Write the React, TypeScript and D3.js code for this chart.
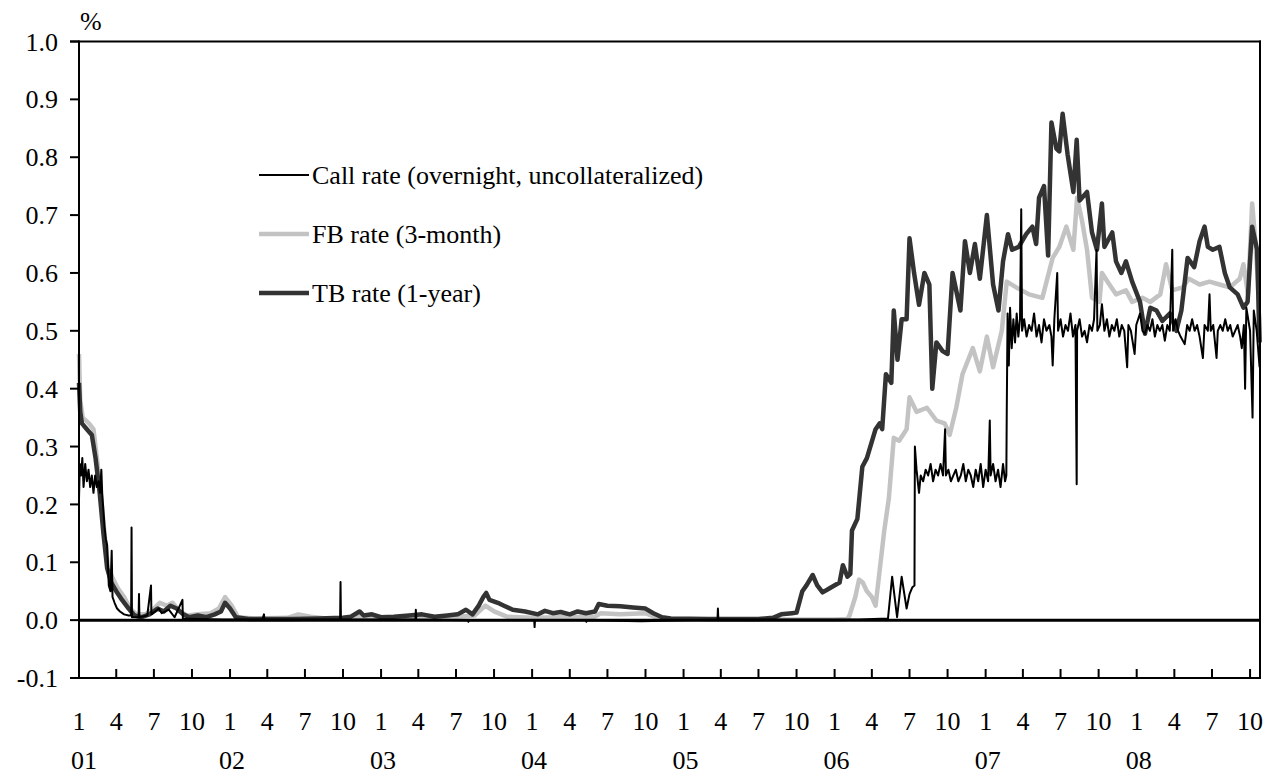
import * as d3 from "d3";
import { useEffect, useRef } from "react";

type Pt = [string, number];

// Call rate (overnight, uncollateralized), %
const callRate: Pt[] = [
  ["2001-01-01", 0.21], ["2001-01-03", 0.27], ["2001-01-06", 0.25], ["2001-01-09", 0.28],
  ["2001-01-12", 0.23], ["2001-01-16", 0.27], ["2001-01-20", 0.24], ["2001-01-24", 0.26],
  ["2001-01-28", 0.23], ["2001-02-01", 0.25], ["2001-02-05", 0.22], ["2001-02-09", 0.25],
  ["2001-02-13", 0.23], ["2001-02-17", 0.24], ["2001-02-21", 0.22], ["2001-02-24", 0.26],
  ["2001-02-26", 0.22], ["2001-03-01", 0.19], ["2001-03-04", 0.16], ["2001-03-07", 0.14],
  ["2001-03-10", 0.13], ["2001-03-14", 0.06], ["2001-03-18", 0.05], ["2001-03-21", 0.12],
  ["2001-03-23", 0.04], ["2001-03-28", 0.03], ["2001-04-03", 0.02], ["2001-04-10", 0.015],
  ["2001-04-20", 0.01], ["2001-05-01", 0.008], ["2001-05-07", 0.008], ["2001-05-08", 0.16],
  ["2001-05-09", 0.005], ["2001-05-25", 0.005], ["2001-05-26", 0.045], ["2001-05-27", 0.005],
  ["2001-06-15", 0.008], ["2001-06-24", 0.06], ["2001-06-25", 0.01], ["2001-07-13", 0.02],
  ["2001-07-20", 0.012], ["2001-08-06", 0.018], ["2001-08-20", 0.005], ["2001-09-08", 0.035],
  ["2001-09-09", 0.003], ["2001-10-15", 0.002], ["2001-12-15", 0.001], ["2002-03-20", 0.001],
  ["2002-03-24", 0.01], ["2002-03-25", 0.001], ["2002-09-24", 0.001], ["2002-09-25", 0.066],
  ["2002-09-26", 0.001], ["2003-03-25", 0.001], ["2003-03-26", 0.018], ["2003-03-27", 0.001],
  ["2003-07-30", 0.0], ["2003-07-31", -0.003], ["2003-08-01", 0.0], ["2004-01-06", 0.0],
  ["2004-01-07", -0.012], ["2004-01-08", 0.0], ["2004-05-10", 0.0], ["2004-05-11", -0.003],
  ["2004-05-12", 0.0], ["2004-09-20", -0.002], ["2005-03-24", 0.001], ["2005-03-25", 0.02],
  ["2005-03-26", 0.001], ["2006-03-01", 0.001], ["2006-05-10", 0.003], ["2006-05-20", 0.075],
  ["2006-06-01", 0.005], ["2006-06-12", 0.075], ["2006-06-24", 0.02], ["2006-07-01", 0.045],
  ["2006-07-08", 0.057], ["2006-07-13", 0.06], ["2006-07-14", 0.3], ["2006-07-18", 0.26],
  ["2006-07-24", 0.22], ["2006-07-28", 0.25], ["2006-08-03", 0.24], ["2006-08-09", 0.26],
  ["2006-08-15", 0.25], ["2006-08-21", 0.27], ["2006-08-27", 0.24], ["2006-09-02", 0.26],
  ["2006-09-08", 0.25], ["2006-09-14", 0.27], ["2006-09-20", 0.25], ["2006-09-25", 0.33],
  ["2006-09-27", 0.25], ["2006-10-03", 0.26], ["2006-10-09", 0.24], ["2006-10-15", 0.25],
  ["2006-10-21", 0.26], ["2006-10-27", 0.24], ["2006-11-02", 0.25], ["2006-11-08", 0.27],
  ["2006-11-14", 0.24], ["2006-11-20", 0.26], ["2006-11-26", 0.25], ["2006-12-02", 0.23],
  ["2006-12-08", 0.26], ["2006-12-14", 0.24], ["2006-12-20", 0.27], ["2006-12-26", 0.23],
  ["2007-01-01", 0.26], ["2007-01-07", 0.24], ["2007-01-11", 0.345], ["2007-01-13", 0.25],
  ["2007-01-19", 0.27], ["2007-01-25", 0.24], ["2007-01-31", 0.26], ["2007-02-06", 0.23],
  ["2007-02-12", 0.27], ["2007-02-17", 0.24], ["2007-02-20", 0.25], ["2007-02-21", 0.36],
  ["2007-02-23", 0.53], ["2007-02-26", 0.44], ["2007-03-01", 0.54], ["2007-03-05", 0.47],
  ["2007-03-09", 0.52], ["2007-03-13", 0.48], ["2007-03-17", 0.53], ["2007-03-21", 0.49],
  ["2007-03-25", 0.52], ["2007-03-28", 0.71], ["2007-03-30", 0.5], ["2007-04-04", 0.52],
  ["2007-04-10", 0.49], ["2007-04-16", 0.51], ["2007-04-22", 0.5], ["2007-04-28", 0.53],
  ["2007-05-04", 0.49], ["2007-05-10", 0.51], ["2007-05-16", 0.48], ["2007-05-22", 0.52],
  ["2007-05-28", 0.5], ["2007-06-04", 0.51], ["2007-06-09", 0.49], ["2007-06-12", 0.44],
  ["2007-06-16", 0.52], ["2007-06-23", 0.6], ["2007-06-25", 0.5], ["2007-07-01", 0.52],
  ["2007-07-07", 0.49], ["2007-07-13", 0.51], ["2007-07-19", 0.5], ["2007-07-25", 0.53],
  ["2007-07-31", 0.49], ["2007-08-06", 0.51], ["2007-08-09", 0.235], ["2007-08-10", 0.5],
  ["2007-08-16", 0.52], ["2007-08-22", 0.49], ["2007-08-28", 0.5], ["2007-09-03", 0.48],
  ["2007-09-09", 0.51], ["2007-09-15", 0.5], ["2007-09-20", 0.52], ["2007-09-26", 0.64],
  ["2007-09-28", 0.5], ["2007-10-04", 0.51], ["2007-10-09", 0.546], ["2007-10-15", 0.5],
  ["2007-10-21", 0.52], ["2007-10-27", 0.49], ["2007-11-02", 0.51], ["2007-11-08", 0.5],
  ["2007-11-14", 0.52], ["2007-11-20", 0.49], ["2007-11-26", 0.51], ["2007-12-02", 0.5],
  ["2007-12-09", 0.437], ["2007-12-12", 0.51], ["2007-12-18", 0.5], ["2007-12-27", 0.46],
  ["2007-12-31", 0.51], ["2008-01-09", 0.53], ["2008-01-15", 0.5], ["2008-01-21", 0.495],
  ["2008-01-27", 0.51], ["2008-02-02", 0.5], ["2008-02-08", 0.52], ["2008-02-14", 0.49],
  ["2008-02-20", 0.51], ["2008-02-26", 0.5], ["2008-03-03", 0.51], ["2008-03-09", 0.483],
  ["2008-03-15", 0.51], ["2008-03-21", 0.5], ["2008-03-27", 0.64], ["2008-03-29", 0.5],
  ["2008-04-04", 0.52], ["2008-04-10", 0.5], ["2008-04-16", 0.49], ["2008-04-26", 0.477],
  ["2008-05-02", 0.51], ["2008-05-08", 0.5], ["2008-05-14", 0.52], ["2008-05-20", 0.5],
  ["2008-05-26", 0.51], ["2008-06-01", 0.49], ["2008-06-09", 0.453], ["2008-06-13", 0.51],
  ["2008-06-21", 0.5], ["2008-06-25", 0.563], ["2008-06-28", 0.5], ["2008-07-04", 0.51],
  ["2008-07-12", 0.453], ["2008-07-15", 0.5], ["2008-07-21", 0.51], ["2008-07-27", 0.5],
  ["2008-08-02", 0.52], ["2008-08-08", 0.5], ["2008-08-14", 0.51], ["2008-08-20", 0.49],
  ["2008-08-26", 0.5], ["2008-09-01", 0.51], ["2008-09-07", 0.49], ["2008-09-11", 0.47],
  ["2008-09-16", 0.51], ["2008-09-19", 0.4], ["2008-09-22", 0.54], ["2008-10-01", 0.5],
  ["2008-10-07", 0.35], ["2008-10-10", 0.535], ["2008-10-17", 0.5], ["2008-10-24", 0.437],
];

// FB rate (3-month), %
const fbRate: Pt[] = [
  ["2001-01-01", 0.46], ["2001-01-04", 0.38], ["2001-01-10", 0.35], ["2001-01-25", 0.34],
  ["2001-02-05", 0.33], ["2001-02-15", 0.27], ["2001-02-25", 0.2], ["2001-03-05", 0.14],
  ["2001-03-12", 0.09], ["2001-03-25", 0.07], ["2001-04-05", 0.055], ["2001-04-20", 0.04],
  ["2001-05-05", 0.02], ["2001-05-20", 0.01], ["2001-06-10", 0.01], ["2001-07-01", 0.02],
  ["2001-07-15", 0.03], ["2001-08-01", 0.025], ["2001-08-15", 0.03], ["2001-09-01", 0.015],
  ["2001-09-20", 0.008], ["2001-10-15", 0.01], ["2001-11-15", 0.012], ["2001-12-05", 0.02],
  ["2001-12-20", 0.04], ["2002-01-05", 0.025], ["2002-01-20", 0.005], ["2002-03-01", 0.003],
  ["2002-05-20", 0.004], ["2002-06-15", 0.01], ["2002-07-15", 0.006], ["2002-09-01", 0.002],
  ["2002-11-10", 0.006], ["2003-01-01", 0.003], ["2003-06-01", 0.004], ["2003-08-15", 0.008],
  ["2003-09-10", 0.025], ["2003-10-01", 0.015], ["2003-11-01", 0.006], ["2004-01-01", 0.004],
  ["2004-03-01", 0.005], ["2004-06-01", 0.006], ["2004-06-15", 0.012], ["2004-08-01", 0.01],
  ["2004-10-01", 0.012], ["2004-10-25", 0.005], ["2004-12-01", 0.002], ["2005-06-01", 0.001],
  ["2006-01-01", 0.001], ["2006-02-01", 0.002], ["2006-02-06", 0.008], ["2006-02-20", 0.04],
  ["2006-03-01", 0.07], ["2006-03-10", 0.065], ["2006-03-20", 0.05], ["2006-04-01", 0.04],
  ["2006-04-10", 0.025], ["2006-05-01", 0.155], ["2006-05-12", 0.21], ["2006-05-24", 0.315],
  ["2006-06-06", 0.31], ["2006-06-24", 0.33], ["2006-07-01", 0.385], ["2006-07-18", 0.36],
  ["2006-08-12", 0.367], ["2006-09-04", 0.345], ["2006-09-24", 0.34], ["2006-10-06", 0.32],
  ["2006-10-22", 0.367], ["2006-11-06", 0.425], ["2006-12-01", 0.47], ["2006-12-18", 0.43],
  ["2007-01-04", 0.49], ["2007-01-19", 0.437], ["2007-02-09", 0.5], ["2007-02-21", 0.585],
  ["2007-03-16", 0.575], ["2007-04-16", 0.563], ["2007-05-18", 0.557], ["2007-06-12", 0.626],
  ["2007-06-28", 0.645], ["2007-07-15", 0.68], ["2007-08-01", 0.64], ["2007-08-10", 0.73],
  ["2007-08-22", 0.69], ["2007-09-03", 0.64], ["2007-09-15", 0.557], ["2007-10-03", 0.55],
  ["2007-10-09", 0.6], ["2007-10-27", 0.58], ["2007-11-12", 0.563], ["2007-12-06", 0.57],
  ["2007-12-21", 0.55], ["2008-01-15", 0.557], ["2008-02-03", 0.55], ["2008-02-27", 0.563],
  ["2008-03-12", 0.615], ["2008-03-27", 0.57], ["2008-04-21", 0.575], ["2008-05-06", 0.59],
  ["2008-06-01", 0.58], ["2008-06-25", 0.585], ["2008-07-19", 0.58], ["2008-08-13", 0.575],
  ["2008-09-06", 0.59], ["2008-09-15", 0.615], ["2008-09-26", 0.563], ["2008-10-06", 0.72],
  ["2008-10-12", 0.67], ["2008-10-20", 0.585], ["2008-10-24", 0.48],
];

// TB rate (1-year), %
const tbRate: Pt[] = [
  ["2001-01-01", 0.41], ["2001-01-04", 0.36], ["2001-01-08", 0.34], ["2001-01-20", 0.33],
  ["2001-02-01", 0.32], ["2001-02-10", 0.28], ["2001-02-20", 0.22], ["2001-03-01", 0.15],
  ["2001-03-10", 0.09], ["2001-03-20", 0.065], ["2001-04-01", 0.05], ["2001-04-15", 0.035],
  ["2001-05-01", 0.02], ["2001-05-15", 0.008], ["2001-06-01", 0.005], ["2001-06-20", 0.01],
  ["2001-07-10", 0.02], ["2001-07-25", 0.015], ["2001-08-10", 0.025], ["2001-08-25", 0.02],
  ["2001-09-10", 0.01], ["2001-09-25", 0.005], ["2001-10-15", 0.008], ["2001-11-05", 0.005],
  ["2001-11-25", 0.01], ["2001-12-10", 0.015], ["2001-12-20", 0.03], ["2002-01-01", 0.02],
  ["2002-01-15", 0.005], ["2002-02-15", 0.002], ["2002-06-01", 0.002], ["2002-08-01", 0.003],
  ["2002-10-01", 0.004], ["2002-10-20", 0.006], ["2002-11-10", 0.015], ["2002-11-20", 0.008],
  ["2002-12-10", 0.01], ["2003-01-01", 0.005], ["2003-02-01", 0.006], ["2003-03-10", 0.008],
  ["2003-04-10", 0.01], ["2003-05-10", 0.006], ["2003-06-10", 0.008], ["2003-07-05", 0.01],
  ["2003-07-25", 0.018], ["2003-08-10", 0.01], ["2003-08-25", 0.025], ["2003-09-05", 0.04],
  ["2003-09-12", 0.047], ["2003-09-20", 0.035], ["2003-10-10", 0.03], ["2003-10-25", 0.025],
  ["2003-11-15", 0.018], ["2003-12-15", 0.015], ["2004-01-15", 0.01], ["2004-02-01", 0.016],
  ["2004-02-20", 0.012], ["2004-03-10", 0.014], ["2004-04-01", 0.01], ["2004-04-20", 0.015],
  ["2004-05-10", 0.012], ["2004-06-01", 0.015], ["2004-06-10", 0.028], ["2004-07-01", 0.025],
  ["2004-08-01", 0.024], ["2004-09-01", 0.022], ["2004-10-01", 0.02], ["2004-10-20", 0.012],
  ["2004-11-10", 0.005], ["2004-12-01", 0.003], ["2005-03-01", 0.002], ["2005-07-01", 0.002],
  ["2005-08-05", 0.004], ["2005-08-25", 0.01], ["2005-09-20", 0.012], ["2005-10-01", 0.013],
  ["2005-10-15", 0.05], ["2005-10-25", 0.06], ["2005-11-09", 0.078], ["2005-11-20", 0.06],
  ["2005-12-03", 0.048], ["2005-12-20", 0.055], ["2006-01-13", 0.065], ["2006-01-21", 0.095],
  ["2006-02-01", 0.075], ["2006-02-08", 0.08], ["2006-02-12", 0.155], ["2006-02-25", 0.175],
  ["2006-03-09", 0.265], ["2006-03-20", 0.28], ["2006-04-10", 0.33], ["2006-04-20", 0.34],
  ["2006-04-26", 0.33], ["2006-05-05", 0.425], ["2006-05-18", 0.41], ["2006-05-24", 0.535],
  ["2006-06-02", 0.45], ["2006-06-12", 0.52], ["2006-06-24", 0.52], ["2006-07-01", 0.66],
  ["2006-07-12", 0.6], ["2006-07-24", 0.545], ["2006-08-06", 0.6], ["2006-08-18", 0.58],
  ["2006-08-25", 0.4], ["2006-09-04", 0.48], ["2006-09-19", 0.465], ["2006-10-01", 0.46],
  ["2006-10-13", 0.6], ["2006-11-01", 0.535], ["2006-11-12", 0.655], ["2006-11-24", 0.6],
  ["2006-12-06", 0.65], ["2006-12-18", 0.59], ["2007-01-04", 0.7], ["2007-01-19", 0.58],
  ["2007-02-01", 0.535], ["2007-02-12", 0.62], ["2007-02-24", 0.667], ["2007-03-06", 0.64],
  ["2007-03-22", 0.645], ["2007-04-09", 0.667], ["2007-04-24", 0.68], ["2007-05-03", 0.65],
  ["2007-05-10", 0.73], ["2007-05-22", 0.75], ["2007-06-01", 0.63], ["2007-06-09", 0.86],
  ["2007-06-21", 0.815], ["2007-06-28", 0.81], ["2007-07-06", 0.875], ["2007-07-18", 0.805],
  ["2007-08-01", 0.74], ["2007-08-09", 0.83], ["2007-08-16", 0.725], ["2007-09-03", 0.74],
  ["2007-09-15", 0.67], ["2007-09-27", 0.64], ["2007-10-09", 0.72], ["2007-10-15", 0.645],
  ["2007-11-03", 0.67], ["2007-11-12", 0.62], ["2007-11-25", 0.6], ["2007-12-06", 0.62],
  ["2007-12-21", 0.585], ["2008-01-09", 0.55], ["2008-01-21", 0.495], ["2008-02-03", 0.54],
  ["2008-02-18", 0.535], ["2008-03-03", 0.517], ["2008-03-21", 0.53], ["2008-04-06", 0.5],
  ["2008-04-18", 0.535], ["2008-05-03", 0.626], ["2008-05-19", 0.61], ["2008-06-01", 0.655],
  ["2008-06-13", 0.68], ["2008-06-21", 0.645], ["2008-07-03", 0.64], ["2008-07-19", 0.645],
  ["2008-08-01", 0.6], ["2008-08-13", 0.575], ["2008-09-01", 0.563], ["2008-09-15", 0.54],
  ["2008-09-25", 0.55], ["2008-10-06", 0.68], ["2008-10-18", 0.64], ["2008-10-24", 0.48],
];

const yTicks = [-0.1, 0.0, 0.1, 0.2, 0.3, 0.4, 0.5, 0.6, 0.7, 0.8, 0.9, 1.0];
const quarterMonths = [1, 4, 7, 10];
const yearLabels = ["01", "02", "03", "04", "05", "06", "07", "08"];
const legendLabels = [
  "Call rate (overnight, uncollateralized)",
  "FB rate (3-month)",
  "TB rate (1-year)",
];

const FONT = "'Liberation Serif', 'Times New Roman', serif";

export default function App() {
  const svgRef = useRef<SVGSVGElement | null>(null);

  useEffect(() => {
    const left = 79;
    const right = 1260;
    const top = 41.5;
    const bottom = 678;

    const svg = d3.select(svgRef.current);
    svg.selectAll("*").remove();

    const parse = d3.timeParse("%Y-%m-%d");
    const x = d3
      .scaleTime()
      .domain([parse("2001-01-01")!, parse("2008-10-25")!])
      .range([left, right]);
    const y = d3.scaleLinear().domain([-0.1, 1.0]).range([bottom, top]);

    const line = d3
      .line<Pt>()
      .x((d) => x(parse(d[0])!))
      .y((d) => y(d[1]));

    const series = [
      { data: fbRate, color: "#c3c3c3", width: 4.5 },
      { data: tbRate, color: "#333333", width: 4.5 },
      { data: callRate, color: "#000000", width: 2 },
    ];

    // series (call rate drawn last, on top)
    series.forEach((s) => {
      svg
        .append("path")
        .datum(s.data)
        .attr("fill", "none")
        .attr("stroke", s.color)
        .attr("stroke-width", s.width)
        .attr("stroke-linejoin", "round")
        .attr("d", line);
    });

    // frame
    const frame = svg.append("g").attr("stroke", "#000").attr("stroke-width", 2);
    frame.append("line").attr("x1", left).attr("x2", left).attr("y1", top - 1).attr("y2", bottom + 1);
    frame.append("line").attr("x1", right).attr("x2", right).attr("y1", top - 1).attr("y2", bottom + 1);
    frame.append("line").attr("x1", left - 9).attr("x2", right + 1).attr("y1", top).attr("y2", top);
    frame.append("line").attr("x1", left - 9).attr("x2", right + 1).attr("y1", bottom).attr("y2", bottom);
    svg
      .append("line")
      .attr("x1", left)
      .attr("x2", right)
      .attr("y1", y(0))
      .attr("y2", y(0))
      .attr("stroke", "#000")
      .attr("stroke-width", 3);

    // y ticks + labels
    yTicks.forEach((t) => {
      svg
        .append("line")
        .attr("x1", left - 9)
        .attr("x2", left)
        .attr("y1", y(t))
        .attr("y2", y(t))
        .attr("stroke", "#000")
        .attr("stroke-width", 2);
      svg
        .append("text")
        .attr("x", 58)
        .attr("y", y(t))
        .attr("dy", "0.35em")
        .attr("text-anchor", "end")
        .style("font", `26px ${FONT}`)
        .text(t.toFixed(1));
    });

    svg
      .append("text")
      .attr("x", 80)
      .attr("y", 30)
      .style("font", `26px ${FONT}`)
      .text("%");

    // x ticks + month / year labels
    yearLabels.forEach((yr, i) => {
      const year = 2001 + i;
      quarterMonths.forEach((m) => {
        const d = new Date(year, m - 1, 1);
        if (d > x.domain()[1]) return;
        const px = x(d);
        if (px > left + 1) {
          svg
            .append("line")
            .attr("x1", px)
            .attr("x2", px)
            .attr("y1", bottom)
            .attr("y2", bottom - 9)
            .attr("stroke", "#000")
            .attr("stroke-width", 2);
        }
        svg
          .append("text")
          .attr("x", px)
          .attr("y", 730)
          .attr("text-anchor", "middle")
          .style("font", `26px ${FONT}`)
          .text(String(m));
      });
      svg
        .append("text")
        .attr("x", x(new Date(year, 0, 1)) + (i === 0 ? 5 : 2))
        .attr("y", 769)
        .attr("text-anchor", "middle")
        .style("font", `26px ${FONT}`)
        .text(yr);
    });

    // legend
    const legendStyles = [
      { color: "#000000", width: 2 },
      { color: "#c3c3c3", width: 4.5 },
      { color: "#333333", width: 4.5 },
    ];
    legendLabels.forEach((label, i) => {
      const ly = 175 + i * 59;
      svg
        .append("line")
        .attr("x1", 259)
        .attr("x2", 309)
        .attr("y1", ly)
        .attr("y2", ly)
        .attr("stroke", legendStyles[i].color)
        .attr("stroke-width", legendStyles[i].width);
      svg
        .append("text")
        .attr("x", 312)
        .attr("y", ly + 9)
        .style("font", `26px ${FONT}`)
        .text(label);
    });
  }, []);

  return (
    <svg
      ref={svgRef}
      width={1267}
      height={776}
      style={{ position: "absolute", left: 0, top: 0, background: "#fff" }}
    />
  );
}
